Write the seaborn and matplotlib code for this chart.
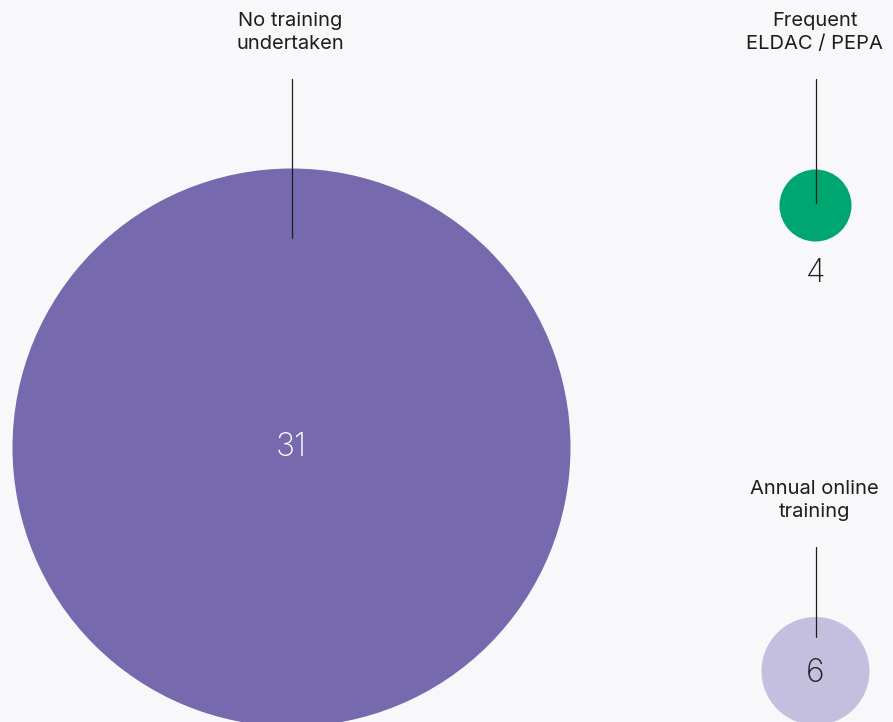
import matplotlib
matplotlib.use("Agg")
import matplotlib.pyplot as plt
import seaborn as sns
import pandas as pd

# ---- data ----
categories = ["No training\nundertaken", "Frequent\nELDAC / PEPA", "Annual online\ntraining"]
values = [31, 4, 6]
colors = ["#7769AE", "#00A670", "#C4BEDF"]
number_colors = ["#FFFFFF", "#1E1E1E", "#1E1E1E"]

# ---- layout (pixel coordinates) ----
W, H = 893, 722
cx = [291.5, 815.5, 815.5]
cy = [447.5, 205.5, 671.0]
label_y = [32.5, 32.5, 500.5]
line_top = [79, 79, 547]
line_bot = [238, 203, 637]
num_y = [447, 274, 673]
PX_PER_UNIT = 9.0  # radius in px per unit of value

sns.set_theme(style="white")
plt.rcParams["font.family"] = ["Inter", "DejaVu Sans"]

fig = plt.figure(figsize=(W / 100, H / 100), dpi=100)
fig.patch.set_facecolor("#F8F8FB")
ax = fig.add_axes([0, 0, 1, 1])
ax.set_facecolor("#F8F8FB")

df = pd.DataFrame({"cat": categories, "value": values, "x": cx, "y": cy})
# marker area in pt^2: diameter in points = 2 * r_px * 72 / dpi
sizes = {v: (2 * PX_PER_UNIT * v * 72 / 100) ** 2 for v in values}
sns.scatterplot(data=df, x="x", y="y", hue="cat", size="value", sizes=sizes,
                palette=dict(zip(categories, colors)), linewidth=0,
                legend=False, ax=ax, zorder=2)

for i, cat in enumerate(categories):
    ax.text(cx[i] - 1, label_y[i], cat, ha="center", va="center", fontsize=14.5,
            color="#1E1E1E", linespacing=1.3)
    ax.plot([cx[i], cx[i]], [line_top[i], line_bot[i]], color="#1E1E1E",
            lw=0.9, zorder=3)
    ax.text(cx[i], num_y[i], str(values[i]), ha="center", va="center",
            fontsize=23, fontweight="light", color=number_colors[i], zorder=4)

ax.set_xlim(0, W)
ax.set_ylim(H, 0)
ax.set_axis_off()

fig.savefig("out.png", dpi=100, facecolor=fig.get_facecolor())
